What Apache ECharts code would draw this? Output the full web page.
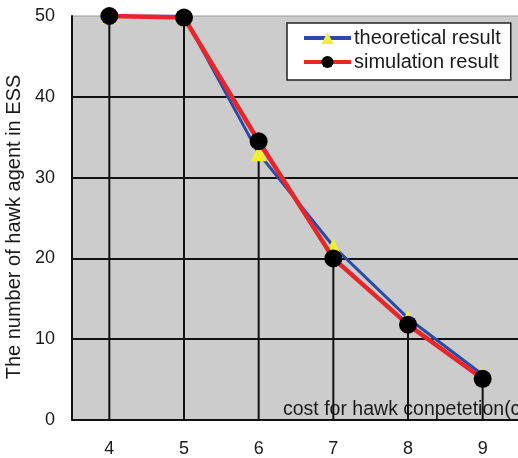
<!DOCTYPE html>
<html>
<head>
<meta charset="utf-8">
<script src="https://cdn.jsdelivr.net/npm/echarts@6/dist/echarts.min.js"></script>
<style>html,body{margin:0;padding:0;background:#fff;}#c{width:518px;height:458px;}</style>
</head>
<body>
<div id="c"></div>
<script>
var categories = ['4', '5', '6', '7', '8', '9'];
var theoretical = [50, 50, 33, 21.5, 12.6, 5.6];
var simulation = [50, 49.8, 34.5, 20, 11.8, 5.1];
var yTicks = [0, 10, 20, 30, 40, 50];
var dropLines = simulation.map(function (v, i) { return Math.max(v, theoretical[i]); });

var FONT = '"Liberation Sans", Arial, sans-serif';
var chart = echarts.init(document.getElementById('c'));
chart.setOption({
  animation: false,
  backgroundColor: '#ffffff',
  textStyle: { fontFamily: FONT },
  grid: {
    left: 72, right: -2, top: 16, bottom: 38,
    containLabel: false,
    outerBoundsMode: 'none',
    show: true, backgroundColor: '#cccccc', borderColor: '#9a9a9a', borderWidth: 1
  },
  legend: {
    orient: 'vertical',
    left: 287, top: 23,
    padding: [5, 10, 8, 15],
    itemWidth: 47, itemHeight: 15, itemGap: 4,
    backgroundColor: '#ffffff',
    borderColor: '#222222', borderWidth: 1.5, borderRadius: 0,
    textStyle: { fontFamily: FONT, fontSize: 20, lineHeight: 20, color: '#1a1a1a', padding: [0, 0, 0, -2] },
    data: [
      { name: 'theoretical result', lineStyle: { width: 4 } },
      { name: 'simulation result', lineStyle: { width: 4 } }
    ]
  },
  xAxis: {
    type: 'category',
    data: categories,
    boundaryGap: true,
    axisLine: { lineStyle: { color: '#111', width: 2 } },
    axisTick: { show: false },
    axisLabel: { fontFamily: FONT, fontSize: 18, color: '#1a1a1a', margin: 20 },
    splitLine: { show: false },
    name: 'cost for hawk conpetetion(c)',
    nameLocation: 'start',
    nameGap: -211,
    nameTextStyle: { fontFamily: FONT, fontSize: 19.5, color: '#1a1a1a', align: 'left', verticalAlign: 'bottom', padding: [0, 0, 0, 0] }
  },
  yAxis: {
    type: 'value',
    min: yTicks[0], max: yTicks[yTicks.length - 1], interval: 10,
    axisLine: { show: true, lineStyle: { color: '#111', width: 2 } },
    axisTick: { show: false },
    axisLabel: { fontFamily: FONT, fontSize: 18, color: '#1a1a1a', margin: 17 },
    splitLine: { show: true, showMaxLine: false, showMinLine: false, lineStyle: { color: '#111', width: 2 } },
    name: 'The number of hawk agent in ESS',
    nameLocation: 'middle',
    nameGap: 37,
    nameTextStyle: { fontFamily: FONT, fontSize: 20, color: '#1a1a1a', padding: [0, 18, 0, 0] }
  },
  series: [
    {
      name: 'drop',
      type: 'bar',
      data: dropLines,
      barWidth: 2,
      itemStyle: { color: '#111' },
      silent: true,
      z: 1
    },
    {
      name: 'theoretical result',
      type: 'line',
      data: theoretical,
      symbol: 'triangle',
      symbolSize: 16,
      lineStyle: { color: '#2a4aa8', width: 3 },
      itemStyle: { color: '#f0f030', borderWidth: 0 },
      z: 3
    },
    {
      name: 'simulation result',
      type: 'line',
      data: simulation,
      symbol: 'circle',
      symbolSize: 18,
      lineStyle: { color: '#e8262a', width: 4.5 },
      itemStyle: { color: '#000000', borderWidth: 0 },
      z: 4
    }
  ]
});
</script>
</body>
</html>
